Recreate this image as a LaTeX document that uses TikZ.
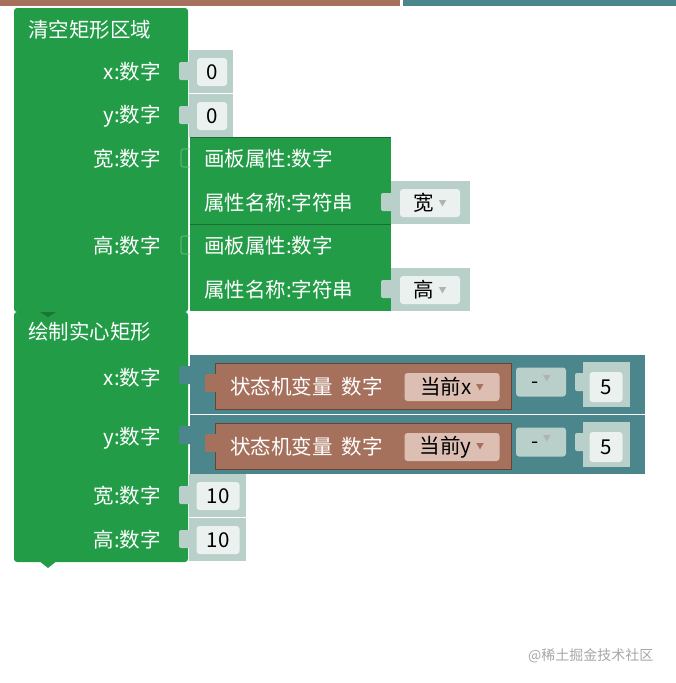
\documentclass[tikz,border=0pt]{standalone}
\usepackage{fontspec}
\setmainfont{Noto Sans CJK SC}
\definecolor{blkgreen}{RGB}{35,156,72}
\definecolor{valgrey}{RGB}{185,208,202}
\definecolor{valfield}{RGB}{234,241,239}
\definecolor{blkteal}{RGB}{74,134,140}
\definecolor{blkbrown}{RGB}{166,113,92}
\definecolor{dropbrown}{RGB}{220,190,178}
\newcommand{\dropmark}[1]{\raisebox{4pt}{\textcolor{#1}{\fontsize{8}{8}\selectfont ▼}}}
\tikzset{
  lbl/.style={text=white, font=\fontsize{20.5}{20.5}\selectfont, inner sep=0pt},
  lblr/.style={lbl, anchor=east},
  lbll/.style={lbl, anchor=west},
  fld/.style={fill=valfield, rounded corners=3pt, font=\fontsize{20.5}{20.5}\selectfont, inner sep=0pt},
  tab/.style={rounded corners=2pt}
}
\begin{document}
\begin{tikzpicture}[x=1pt, y=-1pt]
	\useasboundingbox(0, 0)rectangle(676, 683);
	% top blocks
	\fill[blkbrown](0, 0)rectangle(400, 6);
	\fill[blkteal](403, 0)rectangle(676, 6);
	% clear block
	\fill[blkgreen, rounded corners=3pt](14, 8)rectangle(188, 312);
	\node[lbll](clr)at(28, 30){清空矩形区域};
	\node[lblr](cx)at(161, 72){x:数字};
	\node[lblr](cy)at(161, 116){y:数字};
	\node[lblr](cw)at(161, 159){宽:数字};
	\node[lblr](ch)at(161, 246){高:数字};
	\fill[valgrey](189, 50)rectangle(233, 93);
	\fill[valgrey, tab](179, 62)rectangle(192, 80);
	\node[fld, minimum width=30pt, minimum height=28pt](vx)at(212, 72){0};
	\fill[valgrey](189, 94)rectangle(233, 137);
	\fill[valgrey, tab](179, 106)rectangle(192, 124);
	\node[fld, minimum width=30pt, minimum height=28pt](vy)at(212, 116){0};
	\foreach \top/\name in {137/宽, 224/高}{
		\fill[blkgreen](190, \top)rectangle(391, \top+87);
		\draw[blkgreen!70!black, line width=.5pt](190, \top)--(391, \top);
		\draw[blkgreen!60!white, line width=.6pt, tab](190, \top+12)--(181, \top+12)--(181, \top+30)--(190, \top+30);
		\node[lbll]at(204, \top+22){画板属性:数字};
		\node[lbll]at(204, \top+66){属性名称:字符串};
		\fill[valgrey](391, \top+44)rectangle(470, \top+87);
		\fill[valgrey, tab](381, \top+56)rectangle(394, \top+74);
		\node[fld, minimum width=60pt, minimum height=28pt]at(430, \top+66){\name\ \dropmark{gray!60}};
	}
	% fill block
	\fill[blkgreen, rounded corners=3pt](14, 312)rectangle(188, 562);
	\fill[blkgreen](38, 560)--(58, 560)--(48, 568)--cycle;
	\fill[blkgreen!75!black](40, 312)--(56, 312)--(48, 317)--cycle;
	\node[lbll](fil)at(28, 332){绘制实心矩形};
	\node[lblr](fx)at(161, 378){x:数字};
	\node[lblr](fy)at(161, 438){y:数字};
	\node[lblr](fw)at(161, 496){宽:数字};
	\node[lblr](fh)at(161, 540){高:数字};
	\foreach \top/\var in {355/x, 415/y}{
		\fill[blkteal](190, \top)rectangle(645, \top+59);
		\fill[blkteal, tab](179, \top+11)rectangle(193, \top+29);
		\fill[blkbrown](215, \top+8)rectangle(511, \top+54);
		\draw[blkbrown!60!black, line width=.5pt](215, \top+8)rectangle(511, \top+54);
		\fill[blkbrown, tab](205, \top+19)rectangle(218, \top+37);
		\node[lbll]at(230, \top+32){状态机变量\ \ 数字};
		\node[fill=dropbrown, rounded corners=3pt, minimum width=95pt, minimum height=28pt, inner sep=0pt, font=\fontsize{20.5}{20.5}\selectfont]at(452, \top+32){当前\var\ \dropmark{blkbrown}};
		\node[fill=valgrey, rounded corners=3pt, minimum width=50pt, minimum height=29pt, inner sep=0pt, font=\fontsize{20.5}{20.5}\selectfont]at(541, \top+27){\raisebox{-3pt}{-}\ \dropmark{gray!60}};
		\fill[valgrey](583, \top+7)rectangle(630, \top+52);
		\fill[valgrey, tab](575, \top+18)rectangle(586, \top+36);
		\node[fld, minimum width=33pt, minimum height=30pt]at(606, \top+32){5};
	}
	\foreach \top/\nm in {474/vw, 518/vh}{
		\fill[valgrey](189, \top)rectangle(246, \top+43);
		\fill[valgrey, tab](179, \top+12)rectangle(192, \top+30);
		\node[fld, minimum width=43pt, minimum height=28pt](\nm)at(218, \top+22){10};
	}
	\node[text=gray!70, font=\fontsize{14}{14}\selectfont, anchor=east](wm)at(657, 656){@稀土掘金技术社区};
\end{tikzpicture}
\end{document}
